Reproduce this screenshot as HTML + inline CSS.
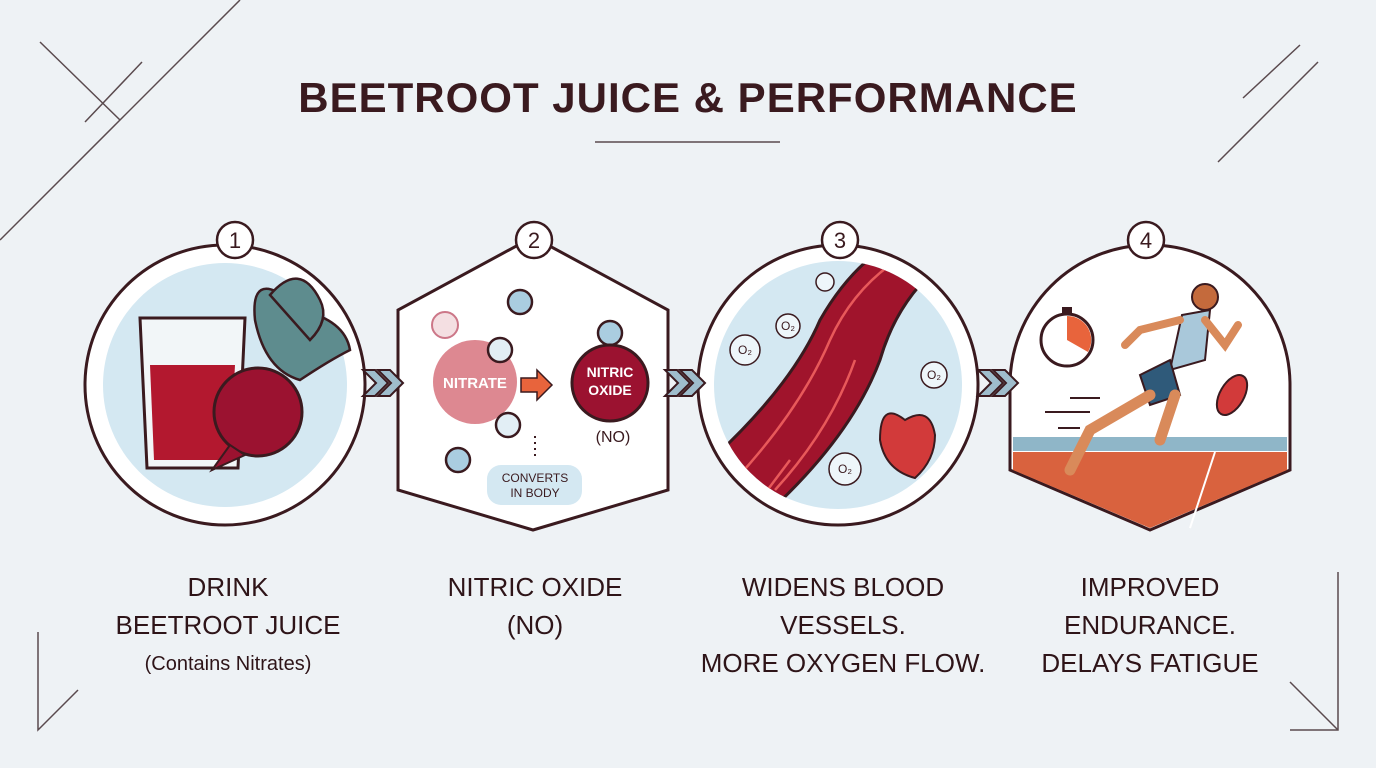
<!DOCTYPE html>
<html><head><meta charset="utf-8"><style>
html,body{margin:0;padding:0;background:#eef2f5;}
svg{display:block;font-family:"Liberation Sans",sans-serif;}
.lab{font-size:26px;fill:#2e1418;text-anchor:middle;}
</style></head><body>
<svg width="1376" height="768" viewBox="0 0 1376 768">
<rect width="1376" height="768" fill="#eef2f5"/>
<g stroke="#5a4a4e" stroke-width="1.5" fill="none">
<line x1="0" y1="240" x2="240" y2="0"/><line x1="40" y1="42" x2="120" y2="120"/><line x1="85" y1="122" x2="142" y2="62"/>
<line x1="1218" y1="162" x2="1318" y2="62"/><line x1="1243" y1="98" x2="1300" y2="45"/>
<polyline points="38,632 38,730 78,690"/>
<polyline points="1338,572 1338,730 1290,730"/><line x1="1290" y1="682" x2="1338" y2="730"/>
</g>
<text x="688" y="112" text-anchor="middle" font-size="42" font-weight="bold" fill="#3a1a1f" letter-spacing="1">BEETROOT JUICE &amp; PERFORMANCE</text>
<line x1="595" y1="142" x2="780" y2="142" stroke="#5a4a4e" stroke-width="1.5"/>
<!-- panel 1 -->
<circle cx="225" cy="385" r="140" fill="#fff" stroke="#3a1a1f" stroke-width="3"/>
<circle cx="225" cy="385" r="122" fill="#d4e8f2"/>
<path d="M140 318 L245 318 L238 468 L147 468 Z" fill="#f2f6f8" stroke="#3a1a1f" stroke-width="3"/>
<path d="M150 365 L235 365 L230 460 L154 460 Z" fill="#b3182f"/>
<path d="M290 300 Q250 270 255 320 Q265 370 300 380 Q330 360 350 350 Q345 320 300 310 Z" fill="#5e8c8e" stroke="#3a1a1f" stroke-width="2.5"/>
<path d="M270 295 Q300 260 320 300 Q330 320 310 340 Z" fill="#5e8c8e" stroke="#3a1a1f" stroke-width="2.5"/>
<circle cx="258" cy="412" r="44" fill="#9b1230" stroke="#3a1a1f" stroke-width="3"/>
<path d="M230 445 L212 470 L245 455 Z" fill="#9b1230" stroke="#3a1a1f" stroke-width="2"/>
<!-- panel 2 -->
<polygon points="533,237 668,310 668,490 533,530 398,490 398,310" fill="#fff" stroke="#3a1a1f" stroke-width="3"/>
<circle cx="520" cy="302" r="12" fill="#aacde0" stroke="#3a1a1f" stroke-width="2.5"/>
<circle cx="445" cy="325" r="13" fill="#f4dfe2" stroke="#c78" stroke-width="2"/>
<circle cx="475" cy="382" r="42" fill="#d56a75" opacity=".8"/>
<circle cx="500" cy="350" r="12" fill="#e2eef5" stroke="#3a1a1f" stroke-width="2.5"/>
<circle cx="508" cy="425" r="12" fill="#e2eef5" stroke="#3a1a1f" stroke-width="2.5"/>
<circle cx="458" cy="460" r="12" fill="#aacde0" stroke="#3a1a1f" stroke-width="2.5"/>
<text x="475" y="388" text-anchor="middle" font-size="15" font-weight="bold" fill="#fff">NITRATE</text>
<path d="M521 378 L537 378 L537 370 L552 385 L537 400 L537 392 L521 392 Z" fill="#e8643c" stroke="#3a1a1f" stroke-width="1.5"/>
<circle cx="610" cy="333" r="12" fill="#aacde0" stroke="#3a1a1f" stroke-width="2.5"/>
<circle cx="610" cy="383" r="38" fill="#9b1230" stroke="#3a1a1f" stroke-width="3"/>
<text x="610" y="377" text-anchor="middle" font-size="14" font-weight="bold" fill="#fff">NITRIC</text>
<text x="610" y="395" text-anchor="middle" font-size="14" font-weight="bold" fill="#fff">OXIDE</text>
<text x="613" y="442" text-anchor="middle" font-size="16" fill="#3a1a1f">(NO)</text>
<line x1="535" y1="436" x2="535" y2="460" stroke="#3a1a1f" stroke-width="2" stroke-dasharray="2 4"/>
<rect x="487" y="465" width="95" height="40" rx="14" fill="#d4e8f2"/>
<text x="535" y="482" text-anchor="middle" font-size="12" fill="#3a1a1f">CONVERTS</text>
<text x="535" y="497" text-anchor="middle" font-size="12" fill="#3a1a1f">IN BODY</text>
<!-- panel 3 -->
<circle cx="838" cy="385" r="140" fill="#fff" stroke="#3a1a1f" stroke-width="3"/>
<circle cx="838" cy="385" r="124" fill="#d4e8f2"/>
<clipPath id="c3"><circle cx="838" cy="385" r="124"/></clipPath>
<g clip-path="url(#c3)">
<path d="M700 470 Q790 390 820 320 Q860 250 920 230 L960 250 Q900 290 880 360 Q850 440 760 520 Z" fill="#a0142c" stroke="#3a1a1f" stroke-width="3"/>
<g stroke="#e8595a" stroke-width="2.5" fill="none">
<path d="M735 480 Q800 410 830 340 Q855 285 905 255"/><path d="M775 490 Q830 430 855 360"/>
<path d="M760 500 L790 460"/></g>
</g>
<g fill="#eef6fa" stroke="#3a1a1f" stroke-width="1.5">
<circle cx="745" cy="350" r="15"/><circle cx="788" cy="326" r="12"/><circle cx="825" cy="282" r="9"/><circle cx="934" cy="375" r="13"/><circle cx="845" cy="469" r="16"/></g>
<g font-size="12" fill="#3a1a1f" text-anchor="middle"><text x="745" y="354">O₂</text><text x="788" y="330">O₂</text><text x="934" y="379">O₂</text><text x="845" y="473">O₂</text></g>
<path d="M905 420 Q880 400 880 440 Q885 470 915 478 Q935 460 935 435 Q930 405 905 420Z" fill="#d23a3a" stroke="#3a1a1f" stroke-width="2"/>
<!-- panel 4 -->
<path d="M1010 385 A140 140 0 0 1 1290 385 L1290 470 L1150 530 L1010 470 Z" fill="#fff" stroke="#3a1a1f" stroke-width="3"/>
<rect x="1013" y="437" width="274" height="14" fill="#8fb6c8"/>
<path d="M1013 452 L1287 452 L1287 470 L1150 528 L1013 470 Z" fill="#d9623e"/>
<line x1="1215" y1="452" x2="1190" y2="528" stroke="#fff" stroke-width="2"/>
<circle cx="1067" cy="340" r="26" fill="#fff" stroke="#3a1a1f" stroke-width="3"/>
<path d="M1067 340 L1067 316 A24 24 0 0 1 1088 352 Z" fill="#e8643c"/>
<rect x="1062" y="307" width="10" height="6" fill="#3a1a1f"/>
<path d="M1182 315 L1210 310 L1205 360 L1170 370 Z" fill="#a9c8da" stroke="#3a1a1f" stroke-width="2"/>
<circle cx="1205" cy="297" r="13" fill="#c46a3c" stroke="#3a1a1f" stroke-width="2"/>
<path d="M1140 375 L1170 360 L1180 395 L1150 405 Z" fill="#2f5a7a" stroke="#3a1a1f" stroke-width="2"/>
<path d="M1150 395 L1090 430 L1070 470 M1175 395 L1160 440" stroke="#d98a5a" stroke-width="11" fill="none" stroke-linecap="round"/>
<path d="M1180 320 L1140 330 L1125 345 M1205 320 L1225 345 L1238 325" stroke="#d98a5a" stroke-width="8" fill="none" stroke-linecap="round"/>
<ellipse cx="1232" cy="395" rx="12" ry="22" transform="rotate(30 1232 395)" fill="#d23a3a" stroke="#3a1a1f" stroke-width="2"/>
<g stroke="#3a1a1f" stroke-width="2"><line x1="1070" y1="398" x2="1100" y2="398"/><line x1="1045" y1="412" x2="1090" y2="412"/><line x1="1058" y1="428" x2="1080" y2="428"/></g>
<g fill="#fff" stroke="#3a1a1f" stroke-width="2.5">
<circle cx="235" cy="240" r="18"/><circle cx="534" cy="240" r="18"/><circle cx="840" cy="240" r="18"/><circle cx="1146" cy="240" r="18"/></g>
<g font-size="22" fill="#3a1a1f" text-anchor="middle"><text x="235" y="248">1</text><text x="534" y="248">2</text><text x="840" y="248">3</text><text x="1146" y="248">4</text></g>
<g fill="#9fbdcc" stroke="#3a1a1f" stroke-width="2">
<path d="M363 370 L375 370 L388 383 L375 396 L363 396 L376 383Z"/><path d="M378 370 L390 370 L403 383 L390 396 L378 396 L391 383Z"/>
<path d="M665 370 L677 370 L690 383 L677 396 L665 396 L678 383Z"/><path d="M680 370 L692 370 L705 383 L692 396 L680 396 L693 383Z"/>
<path d="M978 370 L990 370 L1003 383 L990 396 L978 396 L991 383Z"/><path d="M993 370 L1005 370 L1018 383 L1005 396 L993 396 L1006 383Z"/>
</g>
<text class="lab" x="228" y="596">DRINK</text>
<text class="lab" x="228" y="634">BEETROOT JUICE</text>
<text x="228" y="670" text-anchor="middle" font-size="20" fill="#2e1418">(Contains Nitrates)</text>
<text class="lab" x="535" y="596">NITRIC OXIDE</text>
<text class="lab" x="535" y="634">(NO)</text>
<text class="lab" x="843" y="596">WIDENS BLOOD</text>
<text class="lab" x="843" y="634">VESSELS.</text>
<text class="lab" x="843" y="672">MORE OXYGEN FLOW.</text>
<text class="lab" x="1150" y="596">IMPROVED</text>
<text class="lab" x="1150" y="634">ENDURANCE.</text>
<text class="lab" x="1150" y="672">DELAYS FATIGUE</text>
</svg>
</body></html>
